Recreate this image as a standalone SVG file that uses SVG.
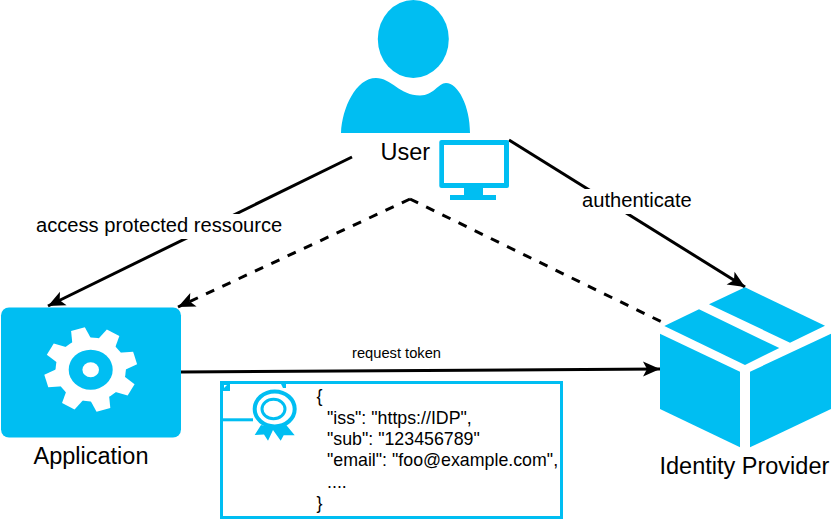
<svg xmlns="http://www.w3.org/2000/svg" xmlns:xlink="http://www.w3.org/1999/xlink" width="831" height="519" viewBox="0 0 831 519">
  <style>
    .blue { fill: #00bef2; }
    .line { fill: none; stroke: #000; stroke-width: 3; }
    .dash { stroke-dasharray: 9 9; }
    text { font-family: "Liberation Sans", Arial, sans-serif; fill: #000; }
    .big { font-size: 23.5px; }
    .mid { font-size: 20.15px; }
    .small { font-size: 14.7px; }
    .code { font-size: 17.8px; }
    .w { fill: #fff; }
  </style>
  <defs>
    <marker id="arrow" markerUnits="userSpaceOnUse" markerWidth="20" markerHeight="18" refX="18" refY="9" orient="auto">
      <path d="M18 9 L1 1.5 L5 9 L1 16.500 Z" fill="#000"/>
    </marker>
    <polygon id="tooth" points="-6.5,-42 6.5,-42 9,-29 -9,-29" fill="#fff"/>
  </defs>

  <g id="connectors">
    <path class="line" d="M352 157 L48 306" marker-end="url(#arrow)"/>
    <path class="line dash" d="M410 199 L178 307" marker-end="url(#arrow)"/>
    <path class="line dash" d="M410 199 L668 325"/>
    <path class="line" d="M509 140 L745 287" marker-end="url(#arrow)"/>
    <path class="line" d="M181 372 L660 369" marker-end="url(#arrow)"/>
    <rect class="w" x="35" y="214" width="248" height="25"/>
    <text class="mid" x="36" y="232">access protected ressource</text>
    <rect class="w" x="580" y="189" width="113" height="25"/>
    <text class="mid" x="582" y="207">authenticate</text>
    <text class="small" x="352" y="358">request token</text>
  </g>

  <g id="user">
    <ellipse class="blue" cx="413.3" cy="39" rx="35.5" ry="39"/>
    <path class="blue" d="M341 133 C342 108 356 78 376 78 C391 78 400 95.500 420 95.500 C434 95.500 438 83 446 83 C458 83 470 106 470 133 Z"/>
    <text class="big" x="380.500" y="160">User</text>
  </g>

  <g id="monitor">
    <path class="blue" fill-rule="evenodd" d="M441.500 140 H507 Q509 140 509 142 V186 Q509 188 507 188 H483 V195 H496 V200 H450 V195 H464 V188 H441.500 Q439.300 188 439.300 186 V142 Q439.300 140 441.500 140 Z M444 145 V183 H504 V145 Z"/>
  </g>

  <g id="application">
    <rect class="blue" x="1" y="307.500" width="180" height="130" rx="8" ry="8"/>
    <g transform="translate(90.700 369.500) scale(1.1 1)">
      <circle class="w" r="32"/>
      <use xlink:href="#tooth" href="#tooth" transform="rotate(-16)"/>
      <use xlink:href="#tooth" href="#tooth" transform="rotate(29)"/>
      <use xlink:href="#tooth" href="#tooth" transform="rotate(74)"/>
      <use xlink:href="#tooth" href="#tooth" transform="rotate(119)"/>
      <use xlink:href="#tooth" href="#tooth" transform="rotate(164)"/>
      <use xlink:href="#tooth" href="#tooth" transform="rotate(209)"/>
      <use xlink:href="#tooth" href="#tooth" transform="rotate(254)"/>
      <use xlink:href="#tooth" href="#tooth" transform="rotate(299)"/>
    </g>
    <ellipse class="blue" cx="90.700" cy="369.700" rx="22" ry="20"/>
    <ellipse class="w" cx="90.700" cy="369.700" rx="8.300" ry="7.500"/>
    <text class="big" x="33.500" y="464">Application</text>
  </g>

  <g id="token">
    <rect x="221.500" y="382.500" width="340" height="135" fill="#fff" stroke="#00bef2" stroke-width="3"/>
    <path class="blue" d="M223 384 H230 V391 H223 Z"/>
    <path class="w" d="M224 385 H227 L224 388 Z"/>
    <path class="blue" d="M281 384 H286 V388 H283 Z"/>
    <path class="blue" d="M223 418.300 H253 V421.300 H223 Z"/>
    <ellipse cx="274.700" cy="409" rx="20" ry="17.500" fill="#fff" stroke="#00bef2" stroke-width="4"/>
    <ellipse cx="273.500" cy="409" rx="11.500" ry="9.700" fill="#fff" stroke="#00bef2" stroke-width="3"/>
    <path class="blue" d="M261 425 L254.700 435 L264 434.500 L268 440.700 L273 430 L280.700 440.700 L283.700 435.300 L294.700 435.300 L286 424.700 L274 428 Z"/>
    <text class="code" x="316.500" y="402">{</text>
    <text class="code" x="327" y="424">"iss": "https://IDP",</text>
    <text class="code" x="327" y="445">"sub": "123456789"</text>
    <text class="code" x="327" y="466">"email": "foo@example.com",</text>
    <text class="code" x="327" y="488">....</text>
    <text class="code" x="316.500" y="509">}</text>
  </g>

  <g id="identity-provider">
    <polygon class="blue" points="745,287.300 825,325.700 790,342.700 709,304.300"/>
    <polygon class="blue" points="699,309.300 779.300,348 745,365 664.300,326"/>
    <polygon class="blue" points="660,333.700 740,371.700 740,447.300 660,409"/>
    <polygon class="blue" points="750,371.700 831,333.700 831,409 750,447.300"/>
    <text class="big" x="659.500" y="474">Identity Provider</text>
  </g>
</svg>
